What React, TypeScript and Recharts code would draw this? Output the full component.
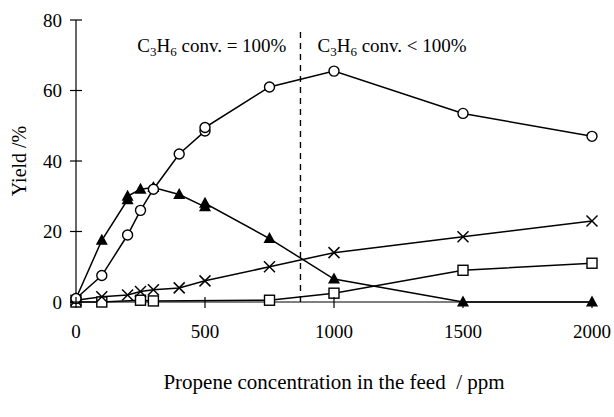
import React from 'react';
import {
  LineChart,
  Line,
  XAxis,
  YAxis,
  ReferenceLine,
  Label,
} from 'recharts';

// 各系列の値
const circleX = [0, 100, 200, 250, 300, 400, 500, 500, 750, 1000, 1500, 2000];
const circleY = [1, 7.5, 19, 26, 32, 42, 48.5, 49.5, 61, 65.5, 53.5, 47];

const triangleX = [0, 100, 200, 200, 250, 300, 400, 500, 500, 750, 1000, 1500, 2000];
const triangleY = [1, 17.5, 29, 30, 32, 32.5, 30.5, 27, 28, 18, 6.5, 0, 0];

const crossX = [0, 100, 200, 250, 300, 400, 500, 750, 1000, 1500, 2000];
const crossY = [0.5, 1.5, 2, 3, 3.5, 4, 6, 10, 14, 18.5, 23];

const squareX = [0, 100, 250, 300, 750, 1000, 1500, 2000];
const squareY = [0, 0, 0.5, 0.3, 0.5, 2.5, 9, 11];

const xTicks = [0, 500, 1000, 1500, 2000];
const yTicks = [0, 20, 40, 60, 80];
const conversionLimit = 870;

const toPoints = (xs: number[], ys: number[]) => xs.map((x, i) => ({ x, y: ys[i] }));

const FONT = "'Liberation Serif', 'Times New Roman', serif";

const CircleDot = (props: any) => {
  const { cx, cy } = props;
  if (cx == null || cy == null) return null;
  return <circle cx={cx} cy={cy} r={5} fill="#fff" stroke="#000" strokeWidth={1.4} />;
};

const TriangleDot = (props: any) => {
  const { cx, cy } = props;
  if (cx == null || cy == null) return null;
  return (
    <polygon
      points={`${cx},${cy - 6.5} ${cx - 6},${cy + 4.5} ${cx + 6},${cy + 4.5}`}
      fill="#000"
    />
  );
};

const CrossDot = (props: any) => {
  const { cx, cy } = props;
  if (cx == null || cy == null) return null;
  return (
    <g stroke="#000" strokeWidth={1.5}>
      <line x1={cx - 5.5} y1={cy - 5.5} x2={cx + 5.5} y2={cy + 5.5} />
      <line x1={cx - 5.5} y1={cy + 5.5} x2={cx + 5.5} y2={cy - 5.5} />
    </g>
  );
};

const SquareDot = (props: any) => {
  const { cx, cy } = props;
  if (cx == null || cy == null) return null;
  return <rect x={cx - 5} y={cy - 5} width={10} height={10} fill="#fff" stroke="#000" strokeWidth={1.4} />;
};

const XTick = (props: any) => {
  const { x, y, payload } = props;
  return (
    <g>
      <line x1={x} y1={y - 5} x2={x} y2={y + 6} stroke="#000" strokeWidth={1.2} />
      <text x={x} y={y + 36} textAnchor="middle" fontSize={19} fontFamily={FONT} fill="#000">
        {payload.value}
      </text>
    </g>
  );
};

const YTick = (props: any) => {
  const { x, y, payload } = props;
  return (
    <g>
      <line x1={x - 6} y1={y} x2={x + 6} y2={y} stroke="#000" strokeWidth={1.2} />
      <text x={x - 14} y={y + 6.5} textAnchor="end" fontSize={19} fontFamily={FONT} fill="#000">
        {payload.value}
      </text>
    </g>
  );
};

const ConvText = ({ x, y, anchor, rest }: { x: number; y: number; anchor: string; rest: string }) => (
  <text x={x} y={y} textAnchor={anchor} fontSize={19} fontFamily={FONT} fill="#000">
    <tspan>C</tspan>
    <tspan fontSize={13} dy={4}>3</tspan>
    <tspan dy={-4}>H</tspan>
    <tspan fontSize={13} dy={4}>6</tspan>
    <tspan dy={-4}>{rest}</tspan>
  </text>
);

export default function App() {
  return (
    <div style={{ position: 'absolute', left: 0, top: 0, background: '#fff' }}>
      <LineChart width={614} height={417} margin={{ top: 20, right: 22, left: 0, bottom: 0 }}>
        <XAxis
          dataKey="x"
          type="number"
          domain={[0, 2000]}
          ticks={xTicks}
          height={115}
          stroke="#000"
          strokeWidth={1.2}
          tickSize={0}
          tickMargin={0}
          tick={<XTick />}
          allowDuplicatedCategory={false}
        >
          <Label
            content={() => (
              <text
                x={334}
                y={389}
                textAnchor="middle"
                fontSize={21}
                fontFamily={FONT}
                fill="#000"
                style={{ whiteSpace: 'pre' }}
              >
                {'Propene concentration in the feed  / ppm'}
              </text>
            )}
          />
        </XAxis>
        <YAxis
          dataKey="y"
          type="number"
          domain={[0, 80]}
          ticks={yTicks}
          width={76}
          stroke="#000"
          strokeWidth={1.2}
          tickSize={0}
          tickMargin={0}
          tick={<YTick />}
        >
          <Label
            content={() => (
              <text
                x={0}
                y={0}
                transform="translate(26,161) rotate(-90)"
                textAnchor="middle"
                fontSize={20}
                fontFamily={FONT}
                fill="#000"
              >
                Yield /%
              </text>
            )}
          />
        </YAxis>
        <ReferenceLine
          segment={[
            { x: conversionLimit, y: 0 },
            { x: conversionLimit, y: 77 },
          ]}
          stroke="#000"
          strokeWidth={1.4}
          strokeDasharray="6 5"
          label={(p: any) => {
            const lx = p.viewBox?.x ?? 300;
            return (
              <g>
                <ConvText x={lx - 14} y={52} anchor="end" rest=" conv. = 100%" />
                <ConvText x={lx + 17} y={52} anchor="start" rest=" conv. < 100%" />
              </g>
            );
          }}
        />
        <Line
          data={toPoints(squareX, squareY)}
          dataKey="y"
          stroke="#000"
          strokeWidth={1.5}
          dot={<SquareDot />}
          isAnimationActive={false}
        />
        <Line
          data={toPoints(crossX, crossY)}
          dataKey="y"
          stroke="#000"
          strokeWidth={1.5}
          dot={<CrossDot />}
          isAnimationActive={false}
        />
        <Line
          data={toPoints(triangleX, triangleY)}
          dataKey="y"
          stroke="#000"
          strokeWidth={1.5}
          dot={<TriangleDot />}
          isAnimationActive={false}
        />
        <Line
          data={toPoints(circleX, circleY)}
          dataKey="y"
          stroke="#000"
          strokeWidth={1.5}
          dot={<CircleDot />}
          isAnimationActive={false}
        />
      </LineChart>
    </div>
  );
}
